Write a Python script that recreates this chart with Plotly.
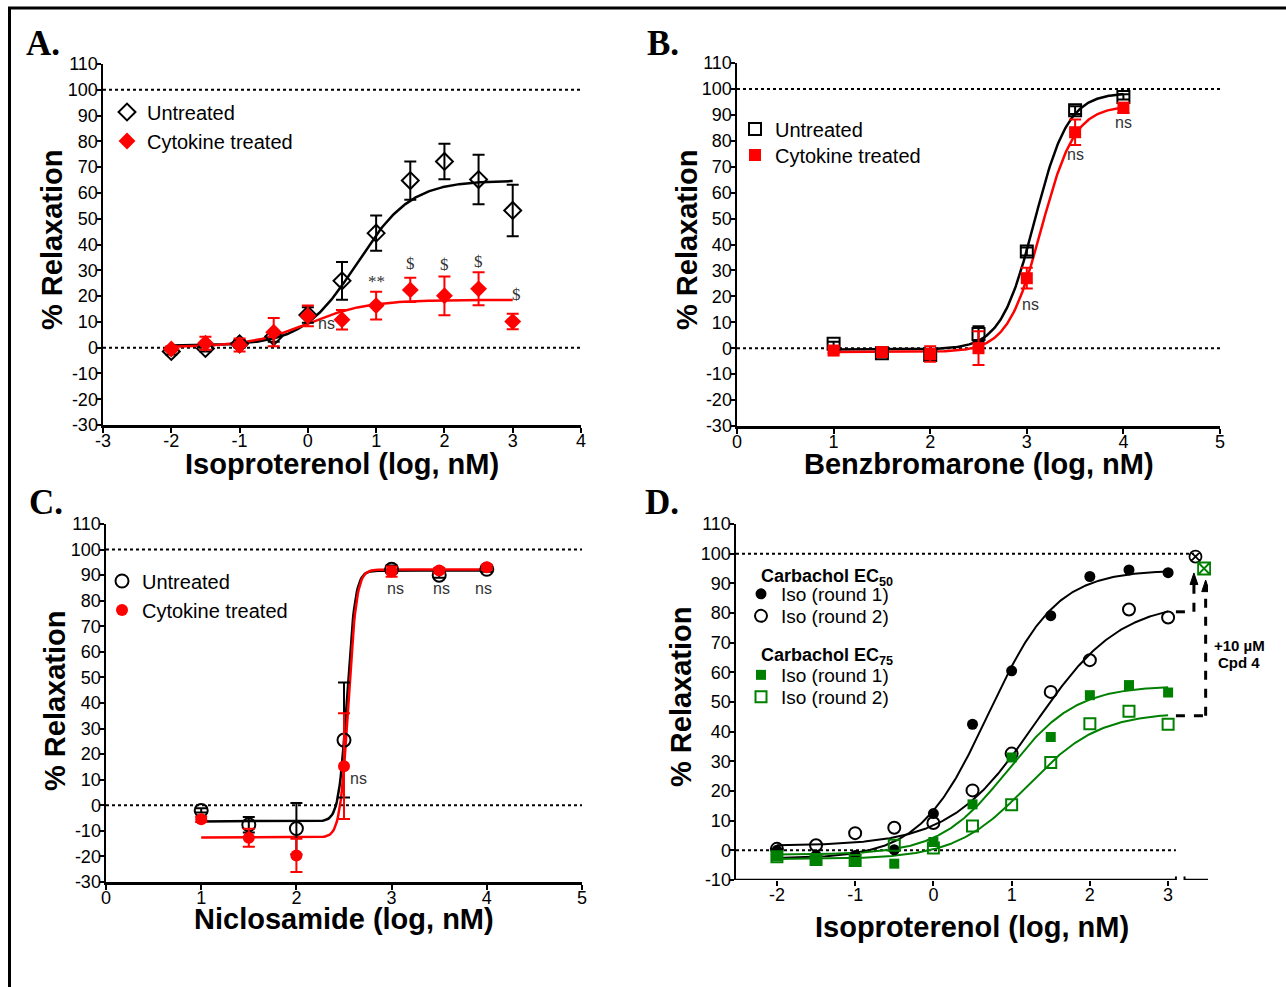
import numpy as np
import plotly.graph_objects as go

# ---------------- DATA ----------------
# Panel A: Isoproterenol
A_x = [-2, -1.5, -1, -0.5, 0, 0.5, 1, 1.5, 2, 2.5, 3]
A_untreated = [-1.5, -0.3, 1.5, 4.3, 12.7, 25.9, 44.4, 64.8, 72.2, 65.2, 53.2]
A_untreated_err = [1.2, 1.2, 1.5, 2.0, 3.0, 7.3, 6.8, 7.4, 6.9, 9.6, 10.0]
A_cytokine = [-0.5, 1.7, 1.0, 6.0, 12.3, 10.8, 16.3, 22.4, 20.1, 22.8, 10.1]
A_cytokine_err = [1.0, 2.5, 2.5, 5.5, 4.0, 3.8, 5.4, 4.7, 7.5, 6.4, 3.0]
# 4PL fit parameters: bottom, top, logEC50, hill
A_fit_untreated = [0.8, 64.8, 0.72, 1.1]
A_fit_cytokine = [0.2, 18.5, 0.0, 1.0]
A_annot = [("ns", 0.27, 9.5), ("**", 1.0, 25.8), ("$", 1.5, 32.8),
           ("$", 2.0, 32.4), ("$", 2.5, 33.6), ("$", 3.05, 20.8)]

# Panel B: Benzbromarone
B_x = [1, 1.5, 2, 2.5, 3, 3.5, 4]
B_untreated = [1.7, -1.9, -2.6, 5.5, 37.3, 91.8, 96.9]
B_untreated_err = [0.8, 1.0, 1.5, 3.0, 1.5, 1.5, 1.0]
B_cytokine = [-0.9, -1.5, -2.2, 0.0, 27.0, 83.3, 92.7]
B_cytokine_err = [1.0, 1.5, 3.0, 6.5, 4.0, 4.9, 2.0]
B_fit_untreated = [-0.5, 98.5, 3.08, 2.5]
B_fit_cytokine = [-1.5, 93.5, 3.15, 2.5]
B_annot = [("ns", 3.04, 17.0), ("ns", 3.5, 74.9), ("ns", 4.0, 86.9)]

# Panel C: Niclosamide
C_x = [1, 1.5, 2, 2.5, 3, 3.5, 4]
C_untreated = [-2.0, -7.6, -9.1, 25.5, 92.3, 90.0, 92.3]
C_untreated_err = [0.8, 3.0, 10.0, 22.5, 1.5, 1.0, 1.0]
C_cytokine = [-5.5, -12.7, -19.6, 15.3, 91.4, 91.8, 93.1]
C_cytokine_err = [1.0, 3.5, 6.5, 20.7, 2.0, 1.0, 1.0]
C_fit_untreated = [-6.3, 91.8, 2.532, 10.0]
C_fit_cytokine = [-12.6, 92.2, 2.545, 10.0]
C_annot = [("ns", 2.65, 10.3), ("ns", 3.04, 84.9), ("ns", 3.52, 84.9), ("ns", 3.97, 84.9)]

# Panel D: Isoproterenol, carbachol pre-contraction
D_x = [-2, -1.5, -1, -0.5, 0, 0.5, 1, 1.5, 2, 2.5, 3]
D_ec50_r1 = [0.0, -1.7, -1.7, 0.2, 12.4, 42.5, 60.5, 79.1, 92.3, 94.5, 93.6]
D_ec50_r2 = [0.5, 1.7, 5.8, 7.6, 9.2, 20.2, 32.6, 53.4, 64.1, 81.2, 78.5]
D_ec75_r1 = [-2.0, -3.1, -3.9, -4.5, 2.8, 15.5, 31.3, 38.2, 52.3, 55.7, 53.2]
D_ec75_r2 = [-2.2, -3.1, -3.4, 1.7, 0.8, 8.2, 15.4, 29.6, 42.7, 46.9, 42.5]
D_fit_ec50_r1 = [-2.8, 94.5, 0.70, 1.0]
D_fit_ec50_r2 = [1.5, 84.0, 1.30, 0.8]
D_fit_ec75_r1 = [-1.5, 55.5, 0.95, 1.0]
D_fit_ec75_r2 = [-3.0, 46.5, 1.20, 0.95]
# +10 uM Cpd 4 added after round 2
D_cpd4_x = [3.35, 3.46]
D_cpd4_y = [99.0, 95.0]

# Tick labels
Y_TICKS_ABC = list(range(-30, 111, 10))
Y_TICKS_D = list(range(-10, 111, 10))
X_TICKS_A = list(range(-3, 5))
X_TICKS_BC = list(range(0, 6))
X_TICKS_D = list(range(-2, 4))
REF_LINES = [0, 100]

# ---------------- LAYOUT HELPERS ----------------
W, H = 1286, 987
ARIAL = "Arial, 'Liberation Sans', Helvetica, sans-serif"
TIMES = "'Times New Roman', 'Liberation Serif', serif"
RED = "#ff0000"
GREEN = "#008000"


def xd(px):
    return px / W


def yd(py):
    return 1 - py / H


def four_pl(p, x):
    bottom, top, logec, hill = p
    return bottom + (top - bottom) / (1 + 10 ** ((logec - x) * hill))


fig = go.Figure()

panels = {
    "A": dict(xa="x", ya="y", xpx=(103, 581), ypx=(64, 425), xr=[-3, 4], yr=[-30, 110],
              xt=X_TICKS_A, yt=Y_TICKS_ABC),
    "B": dict(xa="x2", ya="y2", xpx=(737, 1220), ypx=(63, 426), xr=[0, 5], yr=[-30, 110],
              xt=X_TICKS_BC, yt=Y_TICKS_ABC),
    "C": dict(xa="x3", ya="y3", xpx=(106, 582), ypx=(524, 882), xr=[0, 5], yr=[-30, 110],
              xt=X_TICKS_BC, yt=Y_TICKS_ABC),
    "D": dict(xa="x4", ya="y4", xpx=(736, 1208), ypx=(524, 880), xr=[-2.523, 3.51], yr=[-10, 110],
              xt=X_TICKS_D, yt=Y_TICKS_D),
}

layout_axes = {}
for i, (k, p) in enumerate(panels.items()):
    sfx = "" if i == 0 else str(i + 1)
    layout_axes["xaxis" + sfx] = dict(
        domain=[xd(p["xpx"][0]), xd(p["xpx"][1])], range=p["xr"], anchor=p["ya"],
        tickmode="array", tickvals=p["xt"], ticktext=[str(t) for t in p["xt"]],
        showline=(k != "D"), linecolor="black", linewidth=2.5, ticks="outside",
        ticklen=5, tickwidth=2, tickcolor="black", showgrid=False, zeroline=False,
        ticklabelstandoff=-7, automargin=False,
        tickfont=dict(family=ARIAL, size=18, color="black"), fixedrange=True)
    layout_axes["yaxis" + sfx] = dict(
        domain=[yd(p["ypx"][1]), yd(p["ypx"][0])], range=p["yr"], anchor=p["xa"],
        tickmode="array", tickvals=p["yt"], ticktext=[str(t) for t in p["yt"]],
        showline=True, linecolor="black", linewidth=2.5, ticks="outside",
        ticklen=4, tickwidth=2, tickcolor="black", showgrid=False, zeroline=False,
        ticklabelstandoff=-5, automargin=False,
        tickfont=dict(family=ARIAL, size=18, color="black"), fixedrange=True)

shapes = []
annotations = []

# dotted reference lines
ref_ends = {"A": [4, 4], "B": [5, 5], "C": [5, 5], "D": [3.1, 3.33]}
for k, p in panels.items():
    for ref, xend in zip(REF_LINES, ref_ends[k]):
        shapes.append(dict(type="line", xref=p["xa"], yref=p["ya"], x0=p["xr"][0], x1=xend,
                           y0=ref, y1=ref, line=dict(color="black", width=2, dash="dot"),
                           layer="below"))


def add_curve(panel, params, x0, x1, color, width=2.5):
    p = panels[panel]
    xs = np.linspace(x0, x1, 300)
    fig.add_trace(go.Scatter(x=xs, y=four_pl(params, xs), mode="lines",
                             line=dict(color=color, width=width), showlegend=False,
                             hoverinfo="skip", xaxis=p["xa"], yaxis=p["ya"]))


def add_points(panel, x, y, err, marker, color):
    p = panels[panel]
    kw = {}
    if err is not None:
        kw["error_y"] = dict(type="data", array=err, visible=True, color=color,
                             thickness=2, width=6)
    fig.add_trace(go.Scatter(x=x, y=y, mode="markers", marker=marker, showlegend=False,
                             xaxis=p["xa"], yaxis=p["ya"], cliponaxis=False, **kw))


legend_defs = {}


def add_legend_item(lid, name, marker, text_left_px, center_py, size):
    fig.add_trace(go.Scatter(x=[None], y=[None], mode="markers", marker=marker, name=name,
                             legend=lid, showlegend=True, xaxis="x", yaxis="y"))
    legend_defs[lid] = dict(x=xd(text_left_px - 40), y=yd(center_py), xanchor="left",
                            yanchor="middle", bgcolor="rgba(0,0,0,0)", borderwidth=0,
                            font=dict(family=ARIAL, size=size, color="black"),
                            itemclick=False, itemdoubleclick=False)


# ---- Panel A
mA_u = dict(symbol="diamond-open", size=13, color="black", line=dict(width=2, color="black"))
mA_c = dict(symbol="diamond", size=13, color=RED, line=dict(width=0))
add_curve("A", A_fit_untreated, -2, 3, "black")
add_curve("A", A_fit_cytokine, -2, 3, RED)
add_points("A", A_x, A_untreated, A_untreated_err, mA_u, "black")
add_points("A", A_x, A_cytokine, A_cytokine_err, mA_c, RED)
add_legend_item("legend", "Untreated", mA_u, 147, 112, 20)
add_legend_item("legend2", "Cytokine treated", mA_c, 147, 141, 20)

# ---- Panel B
mB_u = dict(symbol="square-open", size=12, color="black", line=dict(width=2, color="black"))
mB_c = dict(symbol="square", size=12, color=RED, line=dict(width=0))
add_curve("B", B_fit_untreated, 1, 4, "black")
add_curve("B", B_fit_cytokine, 1, 4, RED)
add_points("B", B_x, B_untreated, B_untreated_err, mB_u, "black")
add_points("B", B_x, B_cytokine, B_cytokine_err, mB_c, RED)
add_legend_item("legend3", "Untreated", mB_u, 775, 129, 20)
add_legend_item("legend4", "Cytokine treated", mB_c, 775, 155, 20)

# ---- Panel C
mC_u = dict(symbol="circle-open", size=13, color="black", line=dict(width=2, color="black"))
mC_c = dict(symbol="circle", size=12, color=RED, line=dict(width=0))
add_curve("C", C_fit_untreated, 1, 4, "black")
add_curve("C", C_fit_cytokine, 1, 4, RED)
add_points("C", C_x, C_untreated, C_untreated_err, mC_u, "black")
add_points("C", C_x, C_cytokine, C_cytokine_err, mC_c, RED)
add_legend_item("legend5", "Untreated", mC_u, 142, 581, 20)
add_legend_item("legend6", "Cytokine treated", mC_c, 142, 610, 20)

# ---- Panel D
mD1 = dict(symbol="circle", size=11, color="black", line=dict(width=0))
mD2 = dict(symbol="circle-open", size=12, color="black", line=dict(width=2, color="black"))
mD3 = dict(symbol="square", size=10, color=GREEN, line=dict(width=0))
mD4 = dict(symbol="square-open", size=11, color=GREEN, line=dict(width=2, color=GREEN))
add_curve("D", D_fit_ec50_r1, -2, 3, "black", 2)
add_curve("D", D_fit_ec50_r2, -2, 3, "black", 2)
add_curve("D", D_fit_ec75_r1, -2, 3, GREEN, 2)
add_curve("D", D_fit_ec75_r2, -2, 3, GREEN, 2)
add_points("D", D_x, D_ec50_r1, None, mD1, "black")
add_points("D", D_x, D_ec50_r2, None, mD2, "black")
add_points("D", D_x, D_ec75_r1, None, mD3, GREEN)
add_points("D", D_x, D_ec75_r2, None, mD4, GREEN)
add_points("D", D_cpd4_x[:1], D_cpd4_y[:1], None,
           dict(symbol="circle-x-open", size=12, color="black", line=dict(width=1.8, color="black")),
           "black")
add_points("D", D_cpd4_x[1:], D_cpd4_y[1:], None,
           dict(symbol="square-x-open", size=12, color=GREEN, line=dict(width=1.8, color=GREEN)),
           GREEN)
add_legend_item("legend7", "Iso (round 1)", mD1, 781, 594, 19)
add_legend_item("legend8", "Iso (round 2)", mD2, 781, 616, 19)
add_legend_item("legend9", "Iso (round 1)", mD3, 781, 675, 19)
add_legend_item("legend10", "Iso (round 2)", mD4, 781, 697, 19)


def paper_text(txt, px, py, size, family=ARIAL, angle=0, xanchor="center"):
    annotations.append(dict(text=txt, x=xd(px), y=yd(py), xref="paper", yref="paper",
                            xanchor=xanchor, yanchor="middle", showarrow=False, textangle=angle,
                            font=dict(family=family, size=size, color="black")))


paper_text("<b>Carbachol EC<sub>50</sub></b>", 759, 577, 18, xanchor="left")
paper_text("<b>Carbachol EC<sub>75</sub></b>", 759, 656, 18, xanchor="left")

# D: custom broken x axis line
dline = dict(color="black", width=2.5)
shapes.append(dict(type="line", xref="x4", yref="y4", x0=-2.523, x1=3.10, y0=-10, y1=-10, line=dline))
shapes.append(dict(type="line", xref="x4", yref="y4", x0=3.21, x1=3.51, y0=-10, y1=-10, line=dline))
for bx in (3.10, 3.21):
    shapes.append(dict(type="line", xref="x4", yref="y4", x0=bx, x1=bx, y0=-11.2, y1=-8.8,
                       line=dict(color="black", width=2)))

# D: dashed arrows to Cpd 4 points
dash = dict(color="black", width=3, dash="dash")
shapes.append(dict(type="line", xref="x4", yref="y4", x0=3.10, x1=3.33, y0=80.4, y1=80.4, line=dash))
shapes.append(dict(type="line", xref="x4", yref="y4", x0=3.33, x1=3.33, y0=80.4, y1=90.1, line=dash))
shapes.append(dict(type="line", xref="x4", yref="y4", x0=3.10, x1=3.48, y0=45.4, y1=45.4, line=dash))
shapes.append(dict(type="line", xref="x4", yref="y4", x0=3.48, x1=3.48, y0=45.4, y1=87.7, line=dash))
for tx, tip, base in ((3.33, 93.5, 89.6), (3.48, 91.1, 87.2)):
    shapes.append(dict(type="path", xref="x4", yref="y4",
                       path=f"M {tx-0.05},{base} L {tx+0.05},{base} L {tx},{tip} Z",
                       fillcolor="black", line=dict(color="black", width=1)))
paper_text("<b>+10 µM</b>", 1239, 645, 15)
paper_text("<b>Cpd 4</b>", 1239, 662, 15)

# significance labels
for panel, lst in (("A", A_annot), ("B", B_annot), ("C", C_annot)):
    p = panels[panel]
    for txt, ax, ay in lst:
        serif = txt in ("$", "**")
        annotations.append(dict(text=txt, x=ax, y=ay, xref=p["xa"], yref=p["ya"], showarrow=False,
                                xanchor="center", yanchor="middle",
                                font=dict(family=TIMES if serif else ARIAL, size=17 if serif else 16,
                                          color="#333333")))

# axis titles
titles = [
    ("Isoproterenol (log, nM)", 342, 464, 0),
    ("Benzbromarone (log, nM)", 979, 464, 0),
    ("Niclosamide (log, nM)", 344, 919, 0),
    ("Isoproterenol (log, nM)", 972, 927, 0),
    ("% Relaxation", 52, 240, -90),
    ("% Relaxation", 687, 240, -90),
    ("% Relaxation", 55, 700, -90),
    ("% Relaxation", 681, 697, -90),
]
for txt, px, py, ang in titles:
    paper_text(f"<b>{txt}</b>", px, py, 29, angle=ang)

# panel letters
for txt, px, py in (("A.", 43, 43), ("B.", 663, 43), ("C.", 46, 502), ("D.", 662, 502)):
    paper_text(f"<b>{txt}</b>", px, py, 35, family=TIMES)

# outer frame
frame = dict(color="black", width=3)
shapes.append(dict(type="line", xref="paper", yref="paper", x0=xd(8), x1=1.0, y0=yd(8), y1=yd(8), line=frame))
shapes.append(dict(type="line", xref="paper", yref="paper", x0=xd(9.5), x1=xd(9.5), y0=yd(7), y1=0, line=frame))

fig.update_layout(
    width=W, height=H, margin=dict(l=0, r=0, t=0, b=0, pad=0, autoexpand=False),
    paper_bgcolor="white", plot_bgcolor="white",
    shapes=shapes, annotations=annotations, **layout_axes, **legend_defs,
)

fig.write_html(
    "out.html",
    config={"displayModeBar": False, "staticPlot": True},
    post_script=(
        "document.documentElement.style.margin='0';document.body.style.margin='0';"
        "document.body.style.padding='0';document.documentElement.style.overflow='hidden';"
        "var d=document.getElementById('{plot_id}');"
        "d.style.position='fixed';d.style.left='0px';d.style.top='0px';"
    ),
)
